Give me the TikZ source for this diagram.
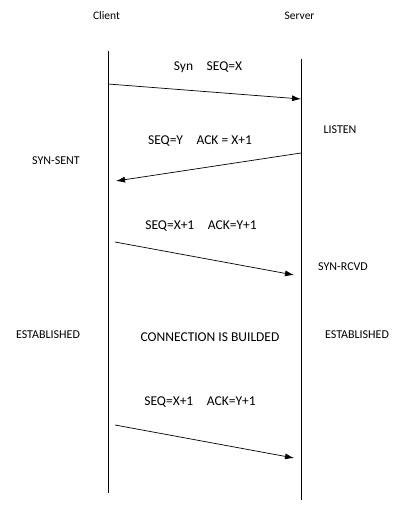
\documentclass[tikz,border=0pt]{standalone}
\usepackage{fontspec}
\setmainfont{Carlito}
\usepackage{tikz}
\usetikzlibrary{arrows.meta,positioning}

\begin{document}
\begin{tikzpicture}[
  x=1pt,y=-1pt,
  font=\fontsize{13.5}{15}\selectfont,
  every node/.style={align=center,inner sep=0pt},
  lifeline/.style={line width=0.9pt,black},
  msg/.style={-{Latex[length=9pt,width=6pt]},line width=0.7pt,black},
  state/.style={font=\fontsize{12}{14}\selectfont},
  host/.style={font=\fontsize{11.5}{13}\selectfont}
]
\useasboundingbox (0,0) rectangle (417,513);

% Lifelines
\node[host] (client) at (106.5,16) {Client};
\node[host] (server) at (299.5,16) {Server};
\coordinate (ctop) at (108,51);
\coordinate (cbot) at (108,493);
\coordinate (stop) at (301,59);
\coordinate (sbot) at (301,500);
\draw[lifeline] (ctop) -- (cbot);
\draw[lifeline] (stop) -- (sbot);

% Message end points
\coordinate (m1a) at (108,84);  \coordinate (m1b) at (301,99);
\coordinate (m2a) at (301,153); \coordinate (m2b) at (116,181);
\coordinate (m3a) at (115,242); \coordinate (m3b) at (294,275);
\coordinate (m4a) at (115,425); \coordinate (m4b) at (294,458);

% Messages
\draw[msg] (m1a) -- (m1b);
\draw[msg] (m2a) -- (m2b);
\draw[msg] (m3a) -- (m3b);
\draw[msg] (m4a) -- (m4b);

% Labels
\node (syn)   at (208,67)  {Syn\quad SEQ=X};
\node (synack)at (200,141) {SEQ=Y\quad ACK = X+1};
\node (ack)   at (201,226) {SEQ=X+1\quad ACK=Y+1};
\node (data)  at (200,402) {SEQ=X+1\quad ACK=Y+1};
\node (conn)  at (210,337) {CONNECTION IS BUILDED};

% States
\node[state] (listen) at (340,130) {LISTEN};
\node[state] (sent)   at (56,161)  {SYN-SENT};
\node[state] (rcvd)   at (343,267) {SYN-RCVD};
\node[state] (estC)   at (48,335)  {ESTABLISHED};
\node[state] (estS)   at (357,335) {ESTABLISHED};
\end{tikzpicture}
\end{document}
